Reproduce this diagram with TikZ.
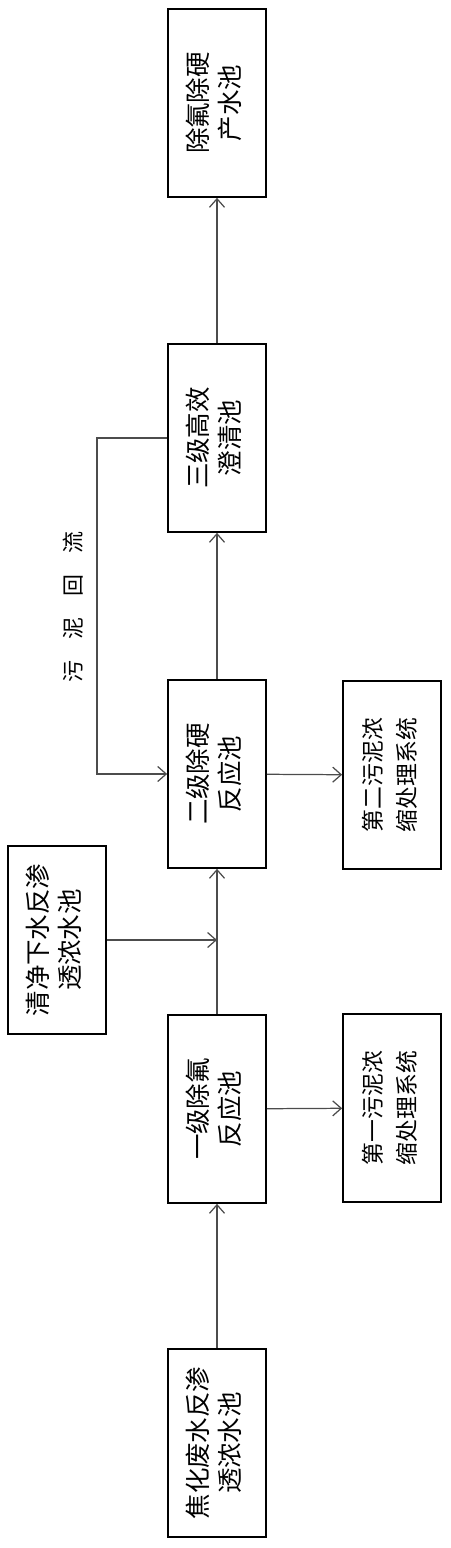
\documentclass[tikz,border=0pt]{standalone}
\usepackage{fontspec}
\usepackage{graphicx}
\usetikzlibrary{arrows.meta}
\usetikzlibrary{positioning}
\newfontfamily\cjk{Noto Sans CJK SC}
\newcommand{\vlabel}[2]{\rotatebox{90}{\begin{tabular}{@{}c@{}}#1\\#2\end{tabular}}}

\begin{document}
\begin{tikzpicture}[x=0.02cm,y=-0.02cm,font=\cjk\fontsize{14.5}{18.5}\selectfont]
        \useasboundingbox (0,0) rectangle (450,1548);
        \begin{scope}[every node/.style={rectangle,draw=black,line width=1pt,minimum width=1.96cm,minimum height=3.76cm,inner sep=0pt}]
            \node (1) at (217,1443) {\vlabel{焦化废水反渗}{透浓水池}};
            \node (2) at (217,1109) {\vlabel{一级除氟}{反应池}};
            \node (3) at (217,774) {\vlabel{二级除硬}{反应池}};
            \node (4) at (217,438) {\vlabel{三级高效}{澄清池}};
            \node (5) at (217,103) {\vlabel{除氟除硬}{产水池}};
            \node[font=\cjk\fontsize{13}{19}\selectfont] (6) at (392,1108) {\vlabel{第一污泥浓}{缩处理系统}};
            \node[font=\cjk\fontsize{13}{19}\selectfont] (7) at (392,775) {\vlabel{第二污泥浓}{缩处理系统}};
            \node (8) at (57,940) {\vlabel{清净下水反渗}{透浓水池}};
        \end{scope}
        \node[rotate=90,font=\cjk\fontsize{12.5}{14}\selectfont] (9) at (73,607) {污\hspace{0.42cm}泥\hspace{0.42cm}回\hspace{0.42cm}流};
        \coordinate (10) at (217,940);
        \coordinate (11) at (97,438);
        \begin{scope}[>={Straight Barb[length=1.7mm,width=3mm]},
            every edge/.style={draw=black!70,line width=0.7pt}]
                    \path[->] (1) edge node {} (2);
                    \path[->] (2) edge node {} (3);
                    \path[->] (3) edge node {} (4);
                    \path[->] (4) edge node {} (5);
                    \path[->] (8) edge node {} (10);
                    \path[->] (2) edge node {} (6);
                    \path[->] (3) edge node {} (7);
                    \draw[->,black!70,line width=0.7pt] (4.west) -- (11) |- (3.west);
        \end{scope}
    \end{tikzpicture}
\end{document}
